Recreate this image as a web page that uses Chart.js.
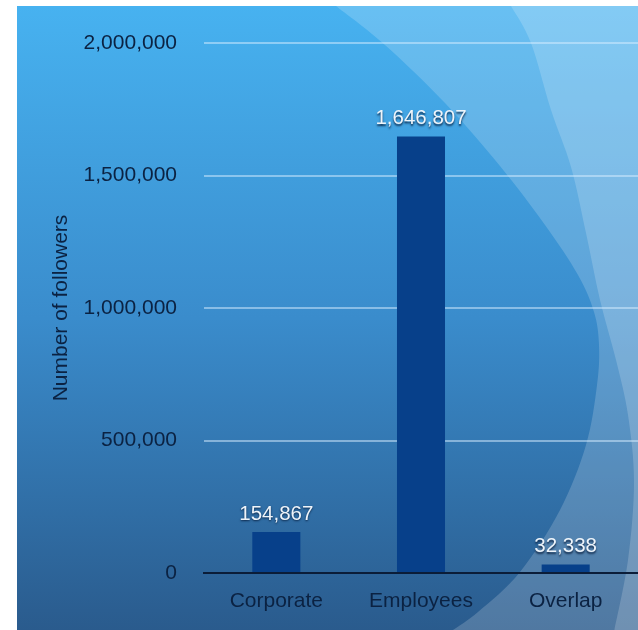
<!DOCTYPE html>
<html>
<head>
<meta charset="utf-8">
<script src="https://cdn.jsdelivr.net/npm/chart.js@4/dist/chart.umd.min.js"></script>
<style>
  html, body { margin: 0; padding: 0; background: #ffffff; }
  #wrap { width: 638px; height: 630px; }
</style>
</head>
<body>
<div id="wrap"><canvas id="c" width="638" height="630"></canvas></div>
<script>
const categories = ['Corporate', 'Employees', 'Overlap'];
const followers = [154867, 1646807, 32338];
const yTickValues = [0, 500000, 1000000, 1500000, 2000000];
const axisTitle = 'Number of followers';

const FONT = '"Liberation Sans", Arial, Helvetica, sans-serif';

// Decorative background arcs (not data)
const arcA = [[336,6],[385,45],[445,103],[500,166],[545,225],[578,275],[594,312],[599,345],[597,385],[586,445],[560,510],[520,572],[478,612],[450,632]];
const arcB = [[511,6],[531,43],[551,110],[571,167],[586,233],[600,300],[616,360],[628,415],[634,482],[628,560],[614,632]];

function splinePath(ctx, p) {
  ctx.moveTo(p[0][0], p[0][1]);
  for (let i = 0; i < p.length - 1; i++) {
    const p0 = p[i - 1] || p[i], p1 = p[i], p2 = p[i + 1], p3 = p[i + 2] || p2;
    const c1x = p1[0] + (p2[0] - p0[0]) / 6, c1y = p1[1] + (p2[1] - p0[1]) / 6;
    const c2x = p2[0] - (p3[0] - p1[0]) / 6, c2y = p2[1] - (p3[1] - p1[1]) / 6;
    ctx.bezierCurveTo(c1x, c1y, c2x, c2y, p2[0], p2[1]);
  }
}

const bgPlugin = {
  id: 'bg',
  beforeDraw(chart) {
    const ctx = chart.ctx, W = chart.width, H = chart.height;
    ctx.save();
    ctx.fillStyle = '#ffffff';
    ctx.fillRect(0, 0, W, H);
    const x0 = 17, y0 = 6;
    const g = ctx.createLinearGradient(0, y0, 0, H);
    g.addColorStop(0, '#47b2f0');
    g.addColorStop(0.5, '#3a8ccc');
    g.addColorStop(1, '#2a5b8d');
    ctx.fillStyle = g;
    ctx.fillRect(x0, y0, W - x0, H - y0);
    ctx.beginPath();
    ctx.rect(x0, y0, W - x0, H - y0);
    ctx.clip();
    [arcA, arcB].forEach(pts => {
      ctx.beginPath();
      splinePath(ctx, pts);
      ctx.lineTo(W + 5, H + 5);
      ctx.lineTo(W + 5, 0);
      ctx.lineTo(pts[0][0], 0);
      ctx.closePath();
      ctx.fillStyle = 'rgba(255,255,255,0.18)';
      ctx.fill();
    });
    ctx.restore();
  }
};

const valueLabels = {
  id: 'valueLabels',
  afterDatasetsDraw(chart) {
    const ctx = chart.ctx;
    const meta = chart.getDatasetMeta(0);
    ctx.save();
    ctx.font = '20.5px ' + FONT;
    ctx.textAlign = 'center';
    ctx.textBaseline = 'middle';
    meta.data.forEach((bar, i) => {
      const txt = followers[i].toLocaleString('en-US');
      ctx.shadowColor = 'rgba(5,25,55,0.85)';
      ctx.shadowOffsetX = 0;
      ctx.shadowOffsetY = 1.5;
      ctx.shadowBlur = 2;
      ctx.fillStyle = '#eef4fa';
      ctx.fillText(txt, bar.x, bar.y - 18);
    });
    ctx.restore();
  }
};

new Chart(document.getElementById('c'), {
  type: 'bar',
  data: {
    labels: categories,
    datasets: [{
      data: followers,
      backgroundColor: '#07408a',
      borderWidth: 0,
      barPercentage: 0.332,
      categoryPercentage: 1.0
    }]
  },
  options: {
    responsive: false,
    animation: false,
    devicePixelRatio: 1,
    layout: { padding: { left: 17, top: 43, right: 0, bottom: 0 } },
    plugins: { legend: { display: false }, tooltip: { enabled: false } },
    scales: {
      x: {
        grid: { display: false, drawTicks: false },
        border: { display: true, color: '#0b1d38', width: 2 },
        ticks: { color: '#0b2242', font: { family: FONT, size: 21 }, padding: 16 },
        afterFit(scale) { scale.height = 57; }
      },
      y: {
        min: 0,
        max: 2000000,
        afterBuildTicks(scale) { scale.ticks = yTickValues.map(v => ({ value: v })); },
        grid: { color: 'rgba(215,238,255,0.5)', lineWidth: 2, drawTicks: false },
        border: { display: false },
        ticks: {
          color: '#0b2242',
          font: { family: FONT, size: 21 },
          padding: 27,
          callback: v => Number(v).toLocaleString('en-US')
        },
        title: {
          display: true,
          text: axisTitle,
          color: '#0b2242',
          font: { family: FONT, size: 21 },
          padding: { top: 32, bottom: 0 }
        },
        afterFit(scale) { scale.width = 187; }
      }
    }
  },
  plugins: [bgPlugin, valueLabels]
});
</script>
</body>
</html>
